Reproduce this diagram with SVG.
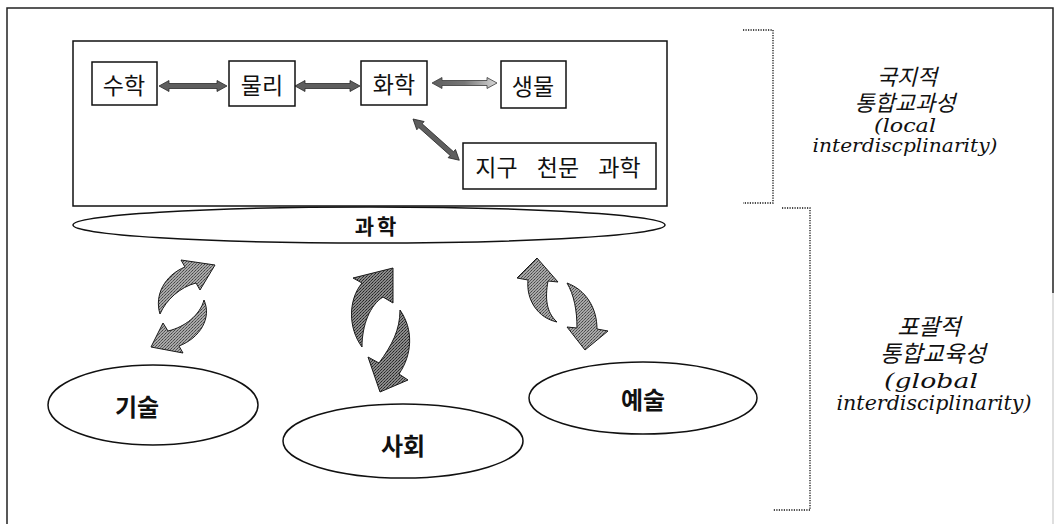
<svg xmlns="http://www.w3.org/2000/svg" width="1055" height="524" viewBox="0 0 1055 524">
<defs>
<style>
.box{fill:#fff;stroke:#111;stroke-width:1.5}
.lbl{font-family:"Noto Sans CJK KR","Noto Sans",sans-serif;font-size:23px;fill:#111;text-anchor:middle;dominant-baseline:central}
.bold{font-family:"Noto Sans CJK KR","Noto Sans",sans-serif;font-weight:bold;fill:#111;text-anchor:middle;dominant-baseline:central}
.ell{fill:#fff;stroke:#111;stroke-width:1.5}
.dot{fill:none;stroke:#111;stroke-width:1.3;stroke-dasharray:1.2 1.3}
.kr{font-family:"Noto Sans CJK KR",sans-serif;font-style:italic;font-weight:normal;fill:#111;text-anchor:middle;dominant-baseline:central}
.en{font-family:"DejaVu Serif","Liberation Serif",serif;font-style:italic;fill:#111;text-anchor:middle}
.dbl{fill:#5e5e5e;stroke:#2a2a2a;stroke-width:0.8}
.cv{stroke:#1a1a1a;stroke-width:1}
</style>
<linearGradient id="fade" x1="0" y1="0" x2="1" y2="0">
<stop offset="0" stop-color="#5e5e5e"/>
<stop offset="0.5" stop-color="#777"/>
<stop offset="1" stop-color="#d8d8d8"/>
</linearGradient>
<pattern id="ditherL" width="3" height="3" patternUnits="userSpaceOnUse">
<rect width="3" height="3" fill="#a8a8a8"/>
<rect x="0" y="0" width="1" height="1" fill="#444"/>
<rect x="2" y="1" width="1" height="1" fill="#555"/>
<rect x="1" y="2" width="1" height="1" fill="#666"/>
</pattern>
<pattern id="ditherD" width="3" height="3" patternUnits="userSpaceOnUse">
<rect width="3" height="3" fill="#8a8a8a"/>
<rect x="0" y="0" width="1" height="1" fill="#222"/>
<rect x="2" y="1" width="1" height="1" fill="#333"/>
<rect x="1" y="2" width="1" height="1" fill="#444"/>
</pattern>
</defs>
<rect width="1055" height="524" fill="#fff"/>

<g id="frame">
<path d="M7,524 L7,8 L1053,8 L1053,293" fill="none" stroke="#222" stroke-width="1.5"/>
<path d="M1053,293 L1053,524" fill="none" stroke="#d4d4d4" stroke-width="1.5"/>
</g>

<g id="science-group">
<rect x="73" y="41" width="594" height="165" class="box"/>
</g>

<g id="brackets">
<path class="dot" d="M743,30 L773,30 L773,203 L743,203"/>
<path class="dot" d="M782,208 L810,208 L810,510 L773,510"/>
</g>

<g id="connectors">
<path class="dbl" d="M159,86 l10,-5.5 v3 h48 v-3 l10,5.5 l-10,5.5 v-3 h-48 v3 z"/>
<path class="dbl" d="M295,86 l10,-5.5 v3 h45 v-3 l10,5.5 l-10,5.5 v-3 h-45 v3 z"/>
<path fill="url(#fade)" stroke="#3a3a3a" stroke-width="0.8" d="M432,83 l10,-5.5 v3 h45 v-3 l10,5.5 l-10,5.5 v-3 h-45 v3 z"/>
<path class="dbl" transform="translate(413,119) rotate(41.7)" d="M0,0 l10,-5.5 v3 h42 v-3 l10,5.5 l-10,5.5 v-3 h-42 v3 z"/>
<path class="cv" fill="url(#ditherL)" d="M160,314 C154,295 165,275 185,267 L181,260 L215,265 L200,290 L196,283 C180,287 166,300 160,314 Z"/>
<path class="cv" fill="url(#ditherL)" d="M204,300 C212,318 200,338 179,346 L183,353 L151,347 L163,323 L168,331 C185,327 200,315 204,300 Z"/>
<path class="cv" fill="url(#ditherD)" d="M362,347 C348,328 348,300 362,283 L353,278 L393,268 L393,303 L383,297 C370,305 362,325 362,347 Z"/>
<path class="cv" fill="url(#ditherD)" d="M400,310 C414,330 412,355 399,374 L408,380 L380,392 L368,357 L379,363 C392,345 400,330 400,310 Z"/>
<path class="cv" fill="url(#ditherL)" d="M557,322 C538,318 526,300 528,280 L517,278 L537,258 L558,282 L548,281 C545,298 546,312 557,322 Z"/>
<path class="cv" fill="url(#ditherL)" d="M567,283 C586,290 597,308 597,329 L608,331 L585,350 L567,327 L577,328 C577,310 574,295 567,283 Z"/>
</g>

<g id="math"><rect x="92" y="62" width="65" height="43" class="box"/><text x="124" y="84" class="lbl">수학</text></g>
<g id="physics"><rect x="229" y="61" width="66" height="45" class="box"/><text x="262" y="84" class="lbl">물리</text></g>
<g id="chemistry"><rect x="361" y="61" width="66" height="44" class="box"/><text x="394" y="83" class="lbl">화학</text></g>
<g id="biology"><rect x="501" y="61" width="65" height="47" class="box"/><text x="533" y="85" class="lbl">생물</text></g>
<g id="earth"><rect x="463" y="143" width="193" height="46" class="box"/><text x="558" y="166" class="lbl" word-spacing="14">지구 천문 과학</text></g>

<g id="science"><ellipse cx="369" cy="225" rx="296" ry="18" class="ell"/><text x="377" y="225" class="bold" font-size="21" letter-spacing="3">과학</text></g>
<g id="technology"><ellipse cx="153" cy="405" rx="105" ry="40" class="ell"/><text x="137" y="405" class="bold" font-size="24">기술</text></g>
<g id="society"><ellipse cx="403" cy="441" rx="120" ry="37" class="ell"/><text x="403" y="444" class="bold" font-size="24">사회</text></g>
<g id="arts"><ellipse cx="643" cy="398" rx="114" ry="36" class="ell"/><text x="643" y="398" class="bold" font-size="24">예술</text></g>

<g id="local-label">
<text x="907" y="75" class="kr" font-size="22">국지적</text>
<text x="905" y="101" class="kr" font-size="22">통합교과성</text>
<text x="905" y="132" class="en" font-size="19" textLength="62" lengthAdjust="spacingAndGlyphs">(local</text>
<text x="905" y="152" class="en" font-size="19" textLength="185" lengthAdjust="spacingAndGlyphs">interdiscplinarity)</text>
</g>
<g id="global-label">
<text x="929" y="325" class="kr" font-size="23">포괄적</text>
<text x="933" y="352" class="kr" font-size="23">통합교육성</text>
<text x="931" y="388" class="en" font-size="21" textLength="94" lengthAdjust="spacingAndGlyphs">(global</text>
<text x="934" y="410" class="en" font-size="20" textLength="195" lengthAdjust="spacingAndGlyphs">interdisciplinarity)</text>
</g>
</svg>
